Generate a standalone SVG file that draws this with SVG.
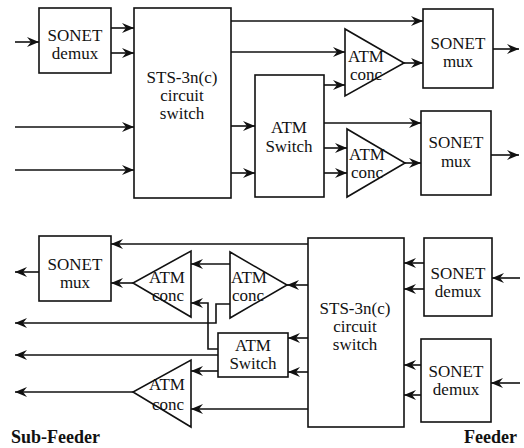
<svg xmlns="http://www.w3.org/2000/svg" width="524" height="448" viewBox="0 0 524 448">
<style>
.box{fill:#fff;stroke:#111;stroke-width:1.6}
.tri{fill:none;stroke:#111;stroke-width:1.6;stroke-linejoin:miter}
.t{font-family:'Liberation Serif','Tinos','DejaVu Serif','Times New Roman',serif;font-size:17px;fill:#111;text-anchor:middle}
.lbl{font-family:'Liberation Serif','Tinos','DejaVu Serif','Times New Roman',serif;font-size:18px;font-weight:bold;fill:#111}
.c{fill:none;stroke:#111;stroke-width:1.6;marker-end:url(#ah)}
</style>
<defs>
<marker id="ah" viewBox="0 0 12 10" markerWidth="12" markerHeight="10" refX="12" refY="5" orient="auto" markerUnits="userSpaceOnUse">
<path d="M0,0 L12,5 L0,10 L4,5 Z" fill="#111"/>
</marker>
</defs>
<rect width="524" height="448" fill="#fff"/>
<g id="connectors">
<path class="c" d="M15,42 H39"/>
<path class="c" d="M111,28 H134"/>
<path class="c" d="M111,53 H134"/>
<path class="c" d="M15,127 H134"/>
<path class="c" d="M15,170 H134"/>
<path class="c" d="M231,21 H423"/>
<path class="c" d="M231,52 H345"/>
<path class="c" d="M231,126 H255"/>
<path class="c" d="M231,173 H255"/>
<path class="c" d="M324,85 H345"/>
<path class="c" d="M404,63 H423"/>
<path class="c" d="M493,49 H519"/>
<path class="c" d="M324,123 H421"/>
<path class="c" d="M324,148 H347"/>
<path class="c" d="M324,173 H347"/>
<path class="c" d="M405,163 H421"/>
<path class="c" d="M491,155 H519"/>
<path class="c" d="M308,244 H111"/>
<path class="c" d="M133,283 H111"/>
<path class="c" d="M39,272 H15"/>
<path class="c" d="M230,264 H191"/>
<path class="c" d="M308,285 H287"/>
<path class="c" d="M230,304 H216 V323 H15"/>
<path class="c" d="M218,349 H208 V303 H191"/>
<path class="c" d="M218,355 H15"/>
<path class="c" d="M218,371 H191"/>
<path class="c" d="M308,409 H191"/>
<path class="c" d="M133,392 H15"/>
<path class="c" d="M308,338 H288"/>
<path class="c" d="M308,372 H288"/>
<path class="c" d="M424,263 H404"/>
<path class="c" d="M424,289 H404"/>
<path class="c" d="M520,278 H492"/>
<path class="c" d="M421,365 H404"/>
<path class="c" d="M421,395 H404"/>
<path class="c" d="M520,383 H491"/>
</g>
<g id="sonet-demux-1">
<rect class="box" x="39" y="8" width="72" height="65"/>
<text class="t" x="75" y="41">SONET</text>
<text class="t" x="75" y="59">demux</text>
</g>
<g id="sts-switch-1">
<rect class="box" x="134" y="8" width="97" height="190"/>
<text class="t" x="182" y="83">STS-3n(c)</text>
<text class="t" x="182" y="101">circuit</text>
<text class="t" x="182" y="119">switch</text>
</g>
<g id="atm-switch-1">
<rect class="box" x="255" y="75" width="69" height="122"/>
<text class="t" x="289" y="133">ATM</text>
<text class="t" x="289" y="152">Switch</text>
</g>
<g id="atm-conc-1">
<polygon class="tri" points="345,29 345,96 404,63"/>
<text class="t" x="366" y="62">ATM</text>
<text class="t" x="366" y="80">conc</text>
</g>
<g id="sonet-mux-1">
<rect class="box" x="423" y="9" width="70" height="79"/>
<text class="t" x="458" y="49">SONET</text>
<text class="t" x="458" y="67">mux</text>
</g>
<g id="atm-conc-2">
<polygon class="tri" points="347,129 347,197 405,163"/>
<text class="t" x="367" y="160">ATM</text>
<text class="t" x="367" y="178">conc</text>
</g>
<g id="sonet-mux-2">
<rect class="box" x="421" y="111" width="70" height="84"/>
<text class="t" x="456" y="148">SONET</text>
<text class="t" x="456" y="167">mux</text>
</g>
<g id="sonet-mux-3">
<rect class="box" x="39" y="236" width="72" height="65"/>
<text class="t" x="75" y="270">SONET</text>
<text class="t" x="75" y="288">mux</text>
</g>
<g id="atm-conc-3">
<polygon class="tri" points="191,251 191,317 133,283"/>
<text class="t" x="167" y="283">ATM</text>
<text class="t" x="168" y="301">conc</text>
</g>
<g id="atm-conc-4">
<polygon class="tri" points="230,252 230,318 287,285"/>
<text class="t" x="249" y="283">ATM</text>
<text class="t" x="248" y="301">conc</text>
</g>
<g id="atm-switch-2">
<rect class="box" x="218" y="333" width="70" height="44"/>
<text class="t" x="253" y="351">ATM</text>
<text class="t" x="253" y="369">Switch</text>
</g>
<g id="atm-conc-5">
<polygon class="tri" points="191,360 191,427 133,392"/>
<text class="t" x="167" y="390">ATM</text>
<text class="t" x="168" y="410">conc</text>
</g>
<g id="sts-switch-2">
<rect class="box" x="308" y="238" width="96" height="189"/>
<text class="t" x="355" y="314">STS-3n(c)</text>
<text class="t" x="355" y="332">circuit</text>
<text class="t" x="355" y="350">switch</text>
</g>
<g id="sonet-demux-2">
<rect class="box" x="424" y="238" width="68" height="78"/>
<text class="t" x="458" y="279">SONET</text>
<text class="t" x="458" y="297">demux</text>
</g>
<g id="sonet-demux-3">
<rect class="box" x="421" y="339" width="70" height="83"/>
<text class="t" x="456" y="377">SONET</text>
<text class="t" x="456" y="395">demux</text>
</g>
<text class="lbl" x="11" y="443">Sub-Feeder</text>
<text class="lbl" x="517" y="443" text-anchor="end">Feeder</text>
</svg>
